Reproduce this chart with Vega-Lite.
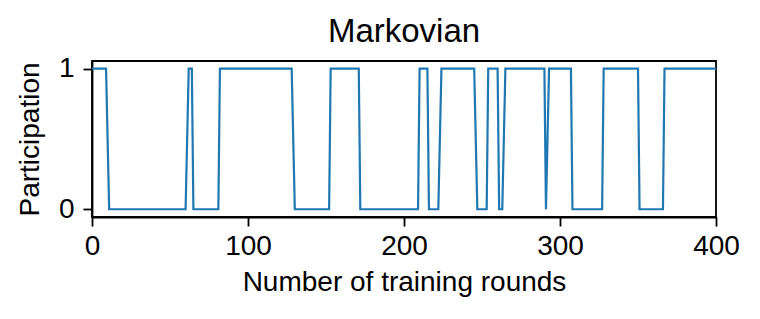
{
  "$schema": "https://vega.github.io/schema/vega-lite/v6.json",
  "autosize": {"type": "none"},
  "width": 624,
  "height": 156,
  "padding": {"left": 92, "top": 61, "right": 44, "bottom": 102},
  "background": "white",
  "title": {"text": "Markovian", "font": "Liberation Sans", "fontSize": 33, "fontWeight": "normal", "color": "black", "offset": 6, "anchor": "middle"},
  "data": {"values": [
    {"round": 0, "p": 1}, {"round": 9, "p": 1}, {"round": 11, "p": 0}, {"round": 60, "p": 0},
    {"round": 62, "p": 1}, {"round": 64, "p": 1}, {"round": 65, "p": 0}, {"round": 81, "p": 0},
    {"round": 82, "p": 1}, {"round": 128, "p": 1}, {"round": 130, "p": 0}, {"round": 152, "p": 0},
    {"round": 153, "p": 1}, {"round": 171, "p": 1}, {"round": 172, "p": 0}, {"round": 209, "p": 0},
    {"round": 210, "p": 1}, {"round": 215, "p": 1}, {"round": 216, "p": 0}, {"round": 222, "p": 0},
    {"round": 224, "p": 1}, {"round": 245, "p": 1}, {"round": 247, "p": 0}, {"round": 253, "p": 0},
    {"round": 254, "p": 1}, {"round": 260, "p": 1}, {"round": 261, "p": 0}, {"round": 263, "p": 0},
    {"round": 265, "p": 1}, {"round": 290, "p": 1}, {"round": 291, "p": 0}, {"round": 293, "p": 1},
    {"round": 307, "p": 1}, {"round": 308, "p": 0}, {"round": 327, "p": 0}, {"round": 328, "p": 1},
    {"round": 350, "p": 1}, {"round": 351, "p": 0}, {"round": 366, "p": 0}, {"round": 367, "p": 1},
    {"round": 400, "p": 1}
  ]},
  "mark": {"type": "line", "color": "#1f77b4", "strokeWidth": 2.2, "clip": true},
  "encoding": {
    "x": {"field": "round", "type": "quantitative",
      "scale": {"domain": [0, 400], "nice": false, "zero": false},
      "axis": {"values": [0, 100, 200, 300, 400], "format": "d", "title": "Number of training rounds", "grid": false, "labelFlush": false,
        "domainColor": "black", "domainWidth": 1.8, "tickColor": "black", "tickWidth": 1.8, "tickSize": 9,
        "labelFont": "Liberation Sans", "labelFontSize": 28, "labelColor": "black", "labelPadding": 6,
        "titleFont": "Liberation Sans", "titleFontSize": 28, "titleFontWeight": "normal", "titleColor": "black", "titlePadding": 8}},
    "y": {"field": "p", "type": "quantitative",
      "scale": {"domain": [-0.055, 1.054], "nice": false, "zero": false},
      "axis": {"values": [0, 1], "format": "d", "title": "Participation", "grid": false, "labelFlush": false,
        "domainColor": "black", "domainWidth": 1.8, "tickColor": "black", "tickWidth": 1.8, "tickSize": 9,
        "labelFont": "Liberation Sans", "labelFontSize": 28, "labelColor": "black", "labelPadding": 9,
        "titleFont": "Liberation Sans", "titleFontSize": 28, "titleFontWeight": "normal", "titleColor": "black", "titlePadding": 14}}
  },
  "config": {"view": {"stroke": "black", "strokeWidth": 1.8}}
}
